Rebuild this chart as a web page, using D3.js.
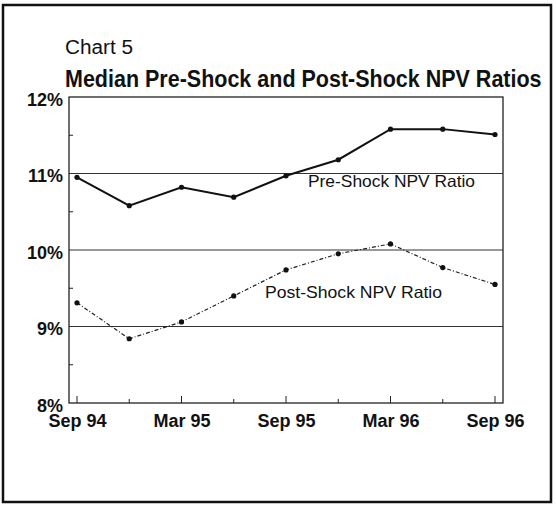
<!DOCTYPE html>
<html>
<head>
<meta charset="utf-8">
<script src="https://cdn.jsdelivr.net/npm/d3@7"></script>
<style>
  body { margin: 0; background: #fff; }
  text { font-family: "Liberation Sans", Arial, sans-serif; fill: #111; }
</style>
</head>
<body>
<div id="chart"></div>
<script>
// quarterly observations
const quarters = ["Sep 94", "Dec 94", "Mar 95", "Jun 95", "Sep 95", "Dec 95", "Mar 96", "Jun 96", "Sep 96"];
const preShock = [10.95, 10.58, 10.82, 10.69, 10.97, 11.18, 11.58, 11.58, 11.51];
const postShock = [9.31, 8.84, 9.06, 9.40, 9.74, 9.95, 10.08, 9.77, 9.55];
const tickLabels = ["Sep 94", "Mar 95", "Sep 95", "Mar 96", "Sep 96"];
const yTicks = [8, 9, 10, 11, 12];
const yMinor = [8.5, 9.5, 10.5, 11.5];

const W = 556, H = 505;
const margin = {top: 97, right: 53, bottom: 102, left: 69},
      width = W - margin.left - margin.right,
      height = H - margin.top - margin.bottom;

const root = d3.select("#chart")
  .append("svg")
    .attr("width", W)
    .attr("height", H);

// outer frame
root.append("rect")
  .attr("x", 3).attr("y", 5)
  .attr("width", 548).attr("height", 497)
  .attr("fill", "none")
  .attr("stroke", "#111")
  .attr("stroke-width", 2.5);

root.append("text")
  .attr("x", 65).attr("y", 54)
  .attr("font-size", 20)
  .attr("textLength", 68)
  .attr("lengthAdjust", "spacingAndGlyphs")
  .text("Chart 5");

// title: stretched vertically a little to get the tall narrow look
root.append("text")
  .attr("transform", "translate(65, 87) scale(1, 1.1)")
  .attr("font-size", 21.5)
  .attr("font-weight", "bold")
  .text("Median Pre-Shock and Post-Shock NPV Ratios");

const svg = root.append("g")
  .attr("transform", `translate(${margin.left}, ${margin.top})`);

const x = d3.scalePoint()
  .domain(quarters)
  .range([0, width])
  .padding(0.153);

const y = d3.scaleLinear()
  .domain([8, 12])
  .range([height, 0]);

// gridlines
svg.selectAll(".grid")
  .data([9, 10, 11])
  .join("line")
    .attr("x1", 0).attr("x2", width)
    .attr("y1", d => y(d)).attr("y2", d => y(d))
    .attr("stroke", "#333")
    .attr("stroke-width", 1);

// plot box
svg.append("rect")
  .attr("width", width).attr("height", height)
  .attr("fill", "none")
  .attr("stroke", "#222")
  .attr("stroke-width", 1.3);

// y axis (ticks drawn inward)
const yAxis = svg.append("g")
  .call(d3.axisLeft(y).tickValues(yTicks).tickSize(0).tickPadding(6).tickFormat(d => d + "%"));
yAxis.select(".domain").remove();
yAxis.selectAll("text")
  .attr("font-size", 18)
  .attr("font-weight", "bold")
  .attr("dy", "0.45em")
  .style("font-family", "Liberation Sans, Arial, sans-serif");

svg.selectAll(".ymin")
  .data(yMinor)
  .join("line")
    .attr("x1", 0).attr("x2", 4)
    .attr("y1", d => y(d)).attr("y2", d => y(d))
    .attr("stroke", "#222");

// x axis
const xAxis = svg.append("g")
  .attr("transform", `translate(0, ${height})`)
  .call(d3.axisBottom(x).tickSize(0).tickPadding(11)
    .tickFormat(d => tickLabels.includes(d) ? d : ""));
xAxis.select(".domain").remove();
xAxis.selectAll("text")
  .attr("font-size", 18)
  .attr("font-weight", "bold")
  .style("font-family", "Liberation Sans, Arial, sans-serif");

svg.selectAll(".xtick")
  .data(quarters)
  .join("line")
    .attr("x1", d => x(d)).attr("x2", d => x(d))
    .attr("y1", height)
    .attr("y2", d => height - (tickLabels.includes(d) ? 7 : 4))
    .attr("stroke", "#222");

const line = d3.line()
  .x((d, i) => x(quarters[i]))
  .y(d => y(d));

// post-shock (dash-dot)
svg.append("path")
  .datum(postShock)
  .attr("fill", "none")
  .attr("stroke", "#222")
  .attr("stroke-width", 1.2)
  .attr("stroke-dasharray", "4,2,1,2")
  .attr("d", line);

svg.selectAll(".post")
  .data(postShock)
  .join("circle")
    .attr("cx", (d, i) => x(quarters[i]))
    .attr("cy", d => y(d))
    .attr("r", 2.6)
    .attr("fill", "#111");

// pre-shock (solid)
svg.append("path")
  .datum(preShock)
  .attr("fill", "none")
  .attr("stroke", "#111")
  .attr("stroke-width", 2)
  .attr("d", line);

svg.selectAll(".pre")
  .data(preShock)
  .join("circle")
    .attr("cx", (d, i) => x(quarters[i]))
    .attr("cy", d => y(d))
    .attr("r", 2.6)
    .attr("fill", "#111");

// series labels
svg.append("text")
  .attr("x", 308 - margin.left).attr("y", 187 - margin.top)
  .attr("font-size", 16.5)
  .attr("textLength", 167)
  .attr("lengthAdjust", "spacingAndGlyphs")
  .text("Pre-Shock NPV Ratio");

svg.append("text")
  .attr("x", 265 - margin.left).attr("y", 298 - margin.top)
  .attr("font-size", 16.5)
  .attr("textLength", 177)
  .attr("lengthAdjust", "spacingAndGlyphs")
  .text("Post-Shock NPV Ratio");
</script>
</body>
</html>
